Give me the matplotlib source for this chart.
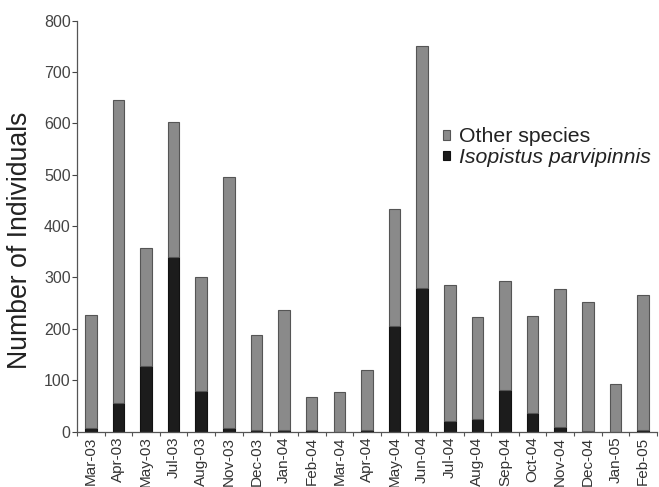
import matplotlib
matplotlib.use("Agg")
import matplotlib.pyplot as plt
import numpy as np

months = ["Mar-03", "Apr-03", "May-03", "Jul-03", "Aug-03", "Nov-03", "Dec-03",
          "Jan-04", "Feb-04", "Mar-04", "Apr-04", "May-04", "Jun-04", "Jul-04",
          "Aug-04", "Sep-04", "Oct-04", "Nov-04", "Dec-04", "Jan-05", "Feb-05"]
total = [227, 645, 357, 602, 300, 496, 188, 237, 67, 78, 120, 433, 750, 285,
         224, 294, 226, 278, 253, 93, 266]
isopistus = [8, 56, 128, 340, 79, 7, 4, 4, 3, 0, 3, 206, 280, 21, 25, 82, 36, 10, 1, 0, 3]
other = [t - i for t, i in zip(total, isopistus)]

plt.rcParams['font.family'] = ['Liberation Sans', 'DejaVu Sans']

fig = plt.figure(figsize=(6.59, 4.87), dpi=100)
ax = fig.add_axes([0.1168, 0.1136, 0.880, 0.8443])

x = np.arange(len(months))
w = 0.42
ax.bar(x, isopistus, width=w, color="#1c1c1c", edgecolor="#111111", linewidth=0.8,
       label="Isopistus parvipinnis")
ax.bar(x, other, bottom=isopistus, width=w, color="#8a8a8a", edgecolor="#555555",
       linewidth=0.8, label="Other species")

ax.set_xlim(-0.5, len(months) - 0.5)
ax.set_ylim(0, 800)
ax.set_yticks(np.arange(0, 801, 100))
ax.tick_params(axis='y', labelsize=11.5, colors="#444444", length=3.6, width=0.8, pad=1)
ax.set_xticks(x)
ax.set_xticklabels(months, rotation=90, fontsize=11, color="#333333")
ax.tick_params(axis='x', length=0, pad=3.5)
ax.set_xticks(np.arange(-0.5, len(months), 1), minor=True)
ax.tick_params(axis='x', which='minor', length=3, width=0.8, color="#555555")

for s in ["top", "right"]:
    ax.spines[s].set_visible(False)
for s in ["left", "bottom"]:
    ax.spines[s].set_color("#555555")
    ax.spines[s].set_linewidth(0.9)

ax.set_ylabel("Number of Individuals", fontsize=19.2, color="#222222")
ax.yaxis.set_label_coords(-0.075, 0.466)

handles, labels = ax.get_legend_handles_labels()
leg = ax.legend(handles[::-1], labels[::-1], loc="upper left",
                bbox_to_anchor=(0.631, 0.74), frameon=False, fontsize=15.3,
                handlelength=0.32, handleheight=0.32, handletextpad=0.42,
                labelspacing=0.08, borderaxespad=0, borderpad=0)
for t in leg.get_texts():
    t.set_color("#222222")
leg.get_texts()[1].set_style("italic")

fig.savefig("out.png", dpi=100)
